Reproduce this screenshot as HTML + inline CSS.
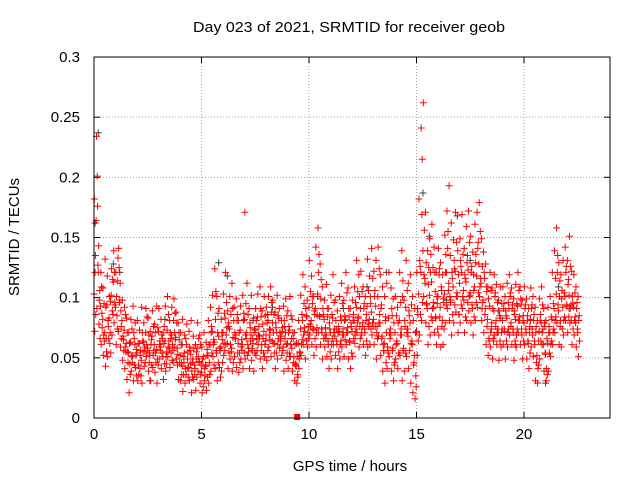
<!DOCTYPE html>
<html><head><meta charset="utf-8"><style>
html,body{margin:0;padding:0;background:#fff}
svg{display:block;font-family:"Liberation Sans",sans-serif}
</style></head><body>
<svg id="chart" width="640" height="480">
<text x="349" y="32" font-size="15" text-anchor="middle" textLength="312" lengthAdjust="spacingAndGlyphs">Day 023 of 2021, SRMTID for receiver geob</text>
<text x="350" y="471" font-size="15" text-anchor="middle">GPS time / hours</text>
<text transform="translate(19,237) rotate(-90)" font-size="15" text-anchor="middle">SRMTID / TECUs</text>
<g id="grid"></g>
<g id="ticks"></g>
<g id="darkpts"></g>
<g id="redpts"></g>
<rect x="94" y="57" width="516" height="361" fill="none" stroke="#000" stroke-width="1"/>
</svg>
<script>
const xTicks=[0,5,10,15,20];
const yTicks=[0,0.05,0.1,0.15,0.2,0.25,0.3];
const yTickLabels=["0","0.05","0.1","0.15","0.2","0.25","0.3"];
const binStep=0.1;
const redMid=[.103,.164,.121,.093,.082,.071,.094,.083,.102,.113,
.092,.114,.098,.081,.073,.062,.054,.063,.052,.061,
.054,.062,.048,.063,.071,.058,.052,.068,.061,.057,
.072,.059,.051,.064,.073,.058,.069,.081,.067,.053,
.052,.043,.054,.061,.042,.053,.049,.041,.058,.047,
.038,.051,.043,.052,.061,.072,.063,.054,.068,.059,
.071,.083,.062,.074,.058,.081,.069,.062,.073,.061,
.082,.071,.058,.069,.062,.073,.084,.068,.061,.072,
.069,.081,.073,.079,.062,.071,.083,.068,.059,.071,
.062,.073,.058,.051,.043,.062,.074,.081,.072,.084,
.092,.081,.073,.091,.103,.084,.071,.082,.069,.061,
.071,.083,.068,.061,.072,.081,.069,.082,.071,.063,
.072,.081,.092,.083,.091,.079,.071,.093,.082,.088,
.082,.093,.101,.079,.068,.062,.071,.083,.069,.058,
.071,.062,.081,.069,.058,.092,.068,.079,.061,.052,
.072,.103,.121,.139,.112,.091,.102,.113,.092,.083,
.101,.092,.081,.103,.121,.112,.098,.109,.122,.101,
.112,.121,.098,.113,.123,.102,.091,.109,.118,.128,
.112,.098,.091,.082,.093,.079,.089,.081,.071,.083,
.081,.072,.083,.091,.079,.071,.082,.093,.081,.069,
.079,.071,.062,.081,.069,.061,.052,.072,.079,.061,
.053,.062,.071,.082,.091,.103,.089,.081,.092,.101,
.093,.102,.081,.092,.079,.071];
const redHigh=[.182,.234,.143,.121,.108,.132,.118,.101,.124,.139,
.121,.133,.112,.098,.092,.083,.071,.082,.093,.079,
.081,.073,.092,.079,.091,.083,.072,.089,.078,.093,
.091,.082,.071,.093,.101,.081,.092,.099,.088,.079,
.071,.082,.069,.078,.072,.081,.068,.061,.079,.069,
.059,.071,.063,.081,.092,.102,.124,.101,.091,.082,
.103,.121,.089,.101,.112,.092,.099,.081,.093,.102,
.171,.112,.091,.102,.083,.091,.103,.109,.089,.101,
.092,.101,.109,.098,.088,.102,.091,.081,.093,.099,
.089,.101,.082,.071,.062,.081,.102,.119,.109,.098,
.131,.118,.101,.142,.158,.128,.109,.098,.111,.091,
.102,.119,.098,.089,.101,.112,.098,.121,.108,.091,
.098,.109,.131,.119,.122,.109,.101,.132,.118,.141,
.122,.131,.142,.119,.109,.101,.112,.121,.108,.099,
.101,.092,.121,.139,.098,.131,.112,.119,.101,.091,
.121,.182,.241,.262,.171,.139,.149,.161,.142,.121,
.141,.129,.119,.152,.172,.193,.162,.148,.171,.139,
.149,.169,.141,.159,.172,.151,.138,.161,.171,.179,
.149,.138,.128,.109,.121,.108,.119,.111,.098,.109,
.109,.101,.112,.119,.108,.099,.111,.121,.109,.098,
.109,.099,.091,.108,.101,.092,.081,.099,.109,.091,
.081,.092,.101,.121,.139,.158,.129,.119,.131,.142,
.131,.151,.122,.119,.109,.101];
const redLow=[.072,.091,.078,.061,.052,.043,.051,.062,.069,.079,
.061,.072,.059,.048,.041,.032,.021,.039,.031,.042,
.031,.041,.029,.043,.051,.039,.031,.042,.038,.029,
.049,.041,.032,.039,.051,.042,.048,.059,.049,.032,
.031,.022,.029,.041,.031,.021,.032,.023,.039,.029,
.021,.031,.023,.029,.039,.051,.041,.031,.042,.039,
.052,.061,.041,.049,.039,.051,.042,.038,.049,.041,
.049,.052,.041,.048,.039,.052,.061,.049,.041,.051,
.048,.059,.051,.062,.041,.049,.058,.052,.039,.048,
.041,.051,.039,.031,.029,.041,.052,.061,.049,.059,
.069,.061,.052,.059,.071,.061,.049,.059,.051,.041,
.049,.061,.052,.041,.049,.059,.051,.061,.049,.041,
.051,.062,.071,.059,.069,.061,.052,.059,.061,.069,
.061,.049,.068,.052,.039,.029,.041,.051,.039,.031,
.049,.041,.052,.031,.039,.051,.041,.029,.021,.016,
.052,.069,.081,.101,.079,.061,.069,.081,.071,.061,
.069,.059,.061,.079,.091,.081,.069,.079,.088,.071,
.079,.091,.071,.081,.089,.079,.069,.081,.092,.101,
.081,.071,.061,.052,.059,.049,.069,.061,.048,.059,
.061,.049,.059,.069,.061,.048,.059,.071,.061,.049,
.061,.049,.041,.059,.051,.031,.029,.049,.061,.039,
.031,.039,.051,.061,.071,.079,.061,.059,.069,.081,
.071,.079,.061,.069,.059,.051];
const redExtra=[.121,.201,.098,.109,.069,.092,.081,.071,.089,.121,
.101,.141,.089,.068,.059,.071,.062,.051,.071,.052,
.062,.052,.071,.059,.061,.069,.061,.052,.071,.049,
.061,.069,.062,.051,.059,.071,.061,.071,.079,.071,
.061,.051,.041,.049,.059,.039,.058,.049,.051,.061,
.049,.041,.052,.061,.071,.061,.082,.071,.058,.071,
.062,.069,.079,.061,.091,.071,.081,.071,.059,.081,
.069,.061,.079,.058,.071,.081,.069,.091,.078,.061,
.079,.069,.088,.071,.079,.061,.071,.072,.081,.061,
.071,.061,.071,.061,.051,.049,.061,.069,.091,.071,
.078,.101,.089,.071,.121,.099,.091,.069,.091,.079,
.061,.071,.081,.071,.061,.069,.081,.071,.091,.079,
.081,.069,.079,.101,.071,.091,.081,.078,.101,.079,
.101,.071,.079,.091,.061,.081,.059,.071,.091,.079,
.061,.079,.069,.101,.081,.071,.089,.062,.081,.071,
.091,.131,.169,.119,.129,.111,.121,.091,.121,.101,
.119,.109,.099,.121,.141,.101,.121,.131,.101,.119,
.131,.101,.119,.129,.101,.121,.119,.129,.141,.109,
.091,.121,.109,.099,.071,.091,.101,.071,.089,.071,
.091,.089,.071,.101,.091,.089,.069,.081,.099,.081,
.091,.081,.071,.091,.081,.071,.041,.081,.071,.079,
.041,.071,.061,.071,.081,.121,.101,.099,.081,.121,
.111,.091,.101,.081,.091,.081];
const redFillA=[.135,.176,.106,.087,.095,.066,.076,.097,.115,.096,
.085,.125,.076,.065,.086,.055,.045,.074,.066,.057,
.044,.056,.064,.055,.084,.046,.065,.076,.054,.075,
.064,.054,.076,.045,.086,.066,.056,.087,.058,.065,
.046,.036,.066,.055,.056,.046,.044,.055,.066,.036,
.044,.035,.057,.046,.076,.065,.105,.087,.056,.065,
.087,.096,.076,.086,.067,.066,.086,.054,.065,.087,
.095,.086,.075,.056,.074,.065,.076,.084,.066,.085,
.086,.074,.096,.086,.075,.085,.066,.075,.076,.085,
.076,.085,.066,.044,.036,.055,.086,.095,.085,.066,
.105,.095,.086,.075,.136,.115,.086,.075,.084,.074,
.086,.096,.074,.076,.084,.095,.085,.104,.084,.076,
.086,.096,.105,.076,.105,.095,.086,.106,.095,.116,
.106,.076,.124,.094,.056,.084,.056,.066,.085,.044,
.085,.054,.096,.114,.076,.106,.085,.094,.044,.035,
.086,.126,.215,.156,.095,.125,.136,.125,.105,.095,
.124,.106,.096,.136,.155,.135,.116,.124,.146,.086,
.126,.136,.116,.135,.146,.126,.106,.136,.146,.155,
.126,.116,.105,.066,.106,.066,.104,.096,.085,.095,
.095,.085,.096,.104,.094,.086,.095,.106,.094,.085,
.094,.085,.076,.094,.086,.076,.064,.086,.094,.076,
.066,.076,.084,.095,.116,.135,.114,.106,.104,.126,
.115,.126,.095,.104,.096,.085];
const redFillB=[.086,.127,.066,.075,.064,.055,.066,.054,.086,.094,
.074,.096,.066,.056,.055,.046,.036,.046,.044,.035,
.036,.035,.055,.046,.056,.054,.044,.056,.046,.044,
.056,.066,.045,.055,.064,.054,.046,.065,.044,.046,
.036,.046,.036,.034,.045,.034,.036,.034,.046,.044,
.026,.044,.034,.036,.054,.044,.056,.046,.034,.046,
.056,.075,.054,.055,.046,.066,.054,.046,.056,.054,
.066,.055,.064,.066,.054,.056,.066,.056,.054,.064,
.056,.065,.064,.054,.054,.066,.064,.056,.066,.054,
.054,.066,.046,.045,.034,.054,.065,.075,.064,.076,
.076,.074,.066,.085,.085,.074,.066,.066,.064,.055,
.066,.074,.064,.055,.064,.074,.065,.075,.064,.054,
.066,.074,.084,.066,.076,.074,.064,.076,.074,.076,
.076,.066,.086,.066,.056,.046,.054,.074,.056,.046,
.064,.054,.074,.056,.054,.074,.056,.064,.046,.026,
.064,.086,.096,.116,.094,.076,.084,.096,.084,.074,
.084,.076,.074,.094,.106,.096,.086,.094,.104,.086,
.094,.106,.084,.096,.104,.094,.084,.096,.104,.116,
.096,.086,.076,.064,.074,.064,.076,.074,.064,.074,
.074,.064,.074,.076,.074,.064,.074,.084,.074,.064,
.074,.064,.054,.074,.064,.046,.044,.064,.074,.054,
.036,.054,.064,.074,.084,.094,.076,.074,.084,.094,
.084,.094,.074,.084,.074,.064];
const darkTimes=[0.05,0.2,0.9,1.2,2.6,3.3,4.1,5.8,6.2,7.4,8.3,9.1,10.4,11.6,12.7,13.6,14.6,15.3,15.6,16.4,16.9,17.5,18.8,19.6,20.3,21.0,21.6,22.1];
const darkValues=[0.162,0.237,0.128,0.121,0.031,0.082,0.061,0.129,0.118,0.081,0.092,0.051,0.101,0.091,0.109,0.121,0.071,0.187,0.151,0.098,0.168,0.131,0.089,0.061,0.082,0.029,0.109,0.091];
const markerTimes=[9.45];
const markerValues=[0];

const X0=94,X1=610,Y0=418,Y1=57,XMAX=24,YMAX=0.3;
const xs=t=>X0+(t/XMAX)*(X1-X0);
const ys=v=>Y0-(v/YMAX)*(Y0-Y1);
const NS="http://www.w3.org/2000/svg";
const grid=document.getElementById('grid'),ticks=document.getElementById('ticks');
function mk(tag,attrs,parent){const e=document.createElementNS(NS,tag);for(const k in attrs)e.setAttribute(k,attrs[k]);parent.appendChild(e);return e;}
xTicks.forEach(t=>{
  const x=xs(t);
  if(t>0){const g=mk('line',{x1:x,x2:x,y1:Y1,y2:Y0,stroke:'#a0a0a0','stroke-dasharray':'1,2'},grid);
  
  }
  mk('line',{x1:x,x2:x,y1:Y0,y2:Y0-6,stroke:'#000'},ticks);
  mk('line',{x1:x,x2:x,y1:Y1,y2:Y1+6,stroke:'#000'},ticks);
  const tx=mk('text',{x:x,y:Y0+21,'font-size':15,'text-anchor':'middle'},ticks);
  tx.textContent=String(t);
  
  
});
yTicks.forEach((v,i)=>{
  const y=ys(v);
  if(v>0&&v<YMAX){const g=mk('line',{x1:X0,x2:X1,y1:y,y2:y,stroke:'#a0a0a0','stroke-dasharray':'1,2'},grid);
  
  }
  mk('line',{x1:X0,x2:X0+6,y1:y,y2:y,stroke:'#000'},ticks);
  mk('line',{x1:X1,x2:X1-6,y1:y,y2:y,stroke:'#000'},ticks);
  const tx=mk('text',{x:X0-14,y:y+5,'font-size':15,'text-anchor':'end'},ticks);
  tx.textContent=yTickLabels[i];
  
  
});
function plus(t,v,color,parent,name){
  const x=xs(t),y=ys(v);
  const p=mk('path',{d:`M${x-3.5},${y}h7M${x},${y-3.5}v7`,stroke:color,'stroke-width':1,fill:'none'},parent);
  
  
}
const dark=document.getElementById('darkpts'),red=document.getElementById('redpts');
darkTimes.forEach((t,i)=>plus(t,darkValues[i],'#404040',dark,'dark-point'));
[[redMid,0.0],[redHigh,0.017],[redLow,0.033],[redExtra,0.05],[redFillA,0.067],[redFillB,0.083]].forEach(([arr,off])=>{
  arr.forEach((v,i)=>plus(i*binStep+off,v,'#ff0000',red,'red-point'));
});
markerTimes.forEach((t,i)=>{
  const r=mk('rect',{x:xs(t)-3,y:ys(markerValues[i])-4,width:6,height:6,fill:'#ff0000'},red);
  
  
});
</script>
</body></html>
